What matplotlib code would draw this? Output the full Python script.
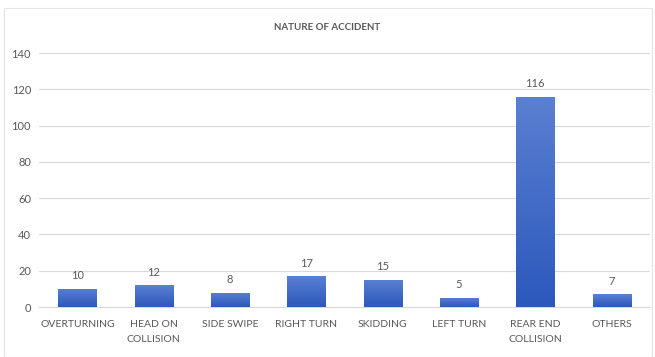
import numpy as np
import matplotlib.pyplot as plt
from matplotlib.patches import Rectangle
from matplotlib.colors import LinearSegmentedColormap

# Data
categories = ['OVERTURNING', 'HEAD ON\nCOLLISION', 'SIDE SWIPE', 'RIGHT TURN',
              'SKIDDING', 'LEFT TURN', 'REAR END\nCOLLISION', 'OTHERS']
counts = [10, 12, 8, 17, 15, 5, 116, 7]
y_ticks = [0, 20, 40, 60, 80, 100, 120, 140]

plt.rcParams['font.family'] = ['Lato', 'DejaVu Sans']
text_color = '#595959'

fig = plt.figure(figsize=(6.55, 3.57), dpi=100)
ax = fig.add_axes([0.060, 0.140, 0.932, 0.7115])

x = np.arange(len(categories))
bars = ax.bar(x, counts, width=0.5, color='#3c66c6', zorder=2)

# vertical gradient on each bar, lighter at top
grad = np.linspace(0, 1, 256).reshape(-1, 1)
cmap = LinearSegmentedColormap.from_list('bar', ['#2c58bd', '#5a80d1'])
for b in bars:
    x0, y0 = b.get_x(), b.get_y()
    w, h = b.get_width(), b.get_height()
    im = ax.imshow(grad, extent=[x0, x0 + w, y0, y0 + h], origin='lower',
                   cmap=cmap, aspect='auto', zorder=3)
    im.set_clip_path(b)

for xi, v in zip(x, counts):
    ax.annotate(str(v), (xi, v), xytext=(0, 5.5), textcoords='offset points',
                ha='center', va='bottom', fontsize=8, color=text_color)

ax.set_xlim(-0.5, len(categories) - 0.5)
ax.set_ylim(0, 140)
ax.set_yticks(y_ticks)
ax.set_xticks(x)
ax.set_xticklabels(categories, fontsize=7.5, color=text_color, linespacing=1.9)
ax.tick_params(axis='y', labelsize=8, labelcolor=text_color, length=0, pad=6)
ax.tick_params(axis='x', length=0, pad=9)
ax.grid(axis='y', color='#d9d9d9', linewidth=0.8, zorder=0)
for s in ['top', 'right', 'left']:
    ax.spines[s].set_visible(False)
ax.spines['bottom'].set_color('#d9d9d9')
ax.spines['bottom'].set_linewidth(0.8)

fig.text(0.5, 0.922, 'NATURE OF ACCIDENT', ha='center', va='center',
         fontsize=7, fontweight='bold', color=text_color)

# chart frame
fig.patches.append(Rectangle((0.006, 0.0), 0.99, 0.978, transform=fig.transFigure,
                             fill=False, edgecolor='#e3e3e3', linewidth=0.8))

fig.savefig('out.png', dpi=100)
